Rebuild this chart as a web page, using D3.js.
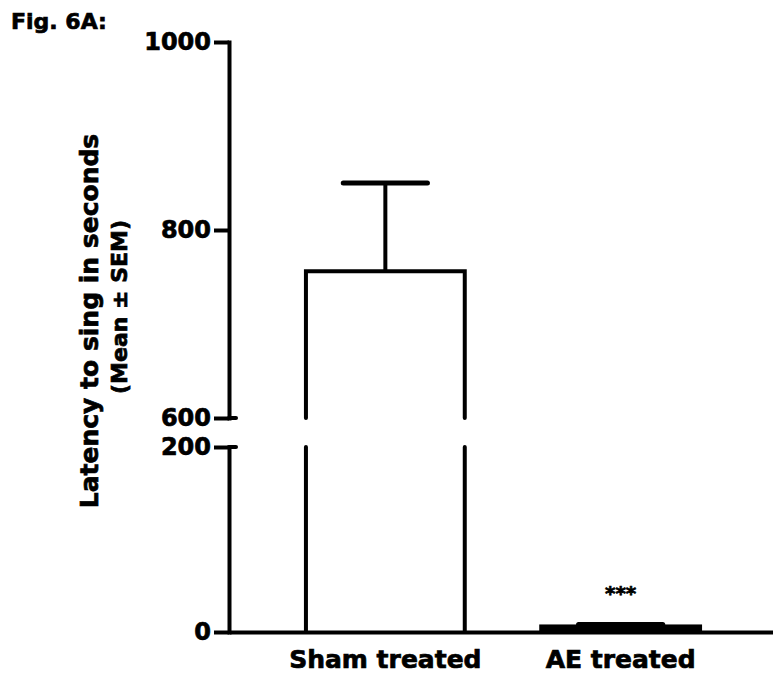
<!DOCTYPE html>
<html>
<head>
<meta charset="utf-8">
<script src="https://cdn.jsdelivr.net/npm/d3@7"></script>
<style>
  body { margin: 0; background: #fff; }
  svg { display: block; font-family: "DejaVu Sans", sans-serif; font-weight: bold; }
  text { stroke: #000; stroke-width: 0.7px; }
</style>
</head>
<body>
<script>
// data
const groups = ["Sham treated", "AE treated"]
const means = [756, 6]
const sems = [94, 2]
const stars = ["", "***"]
const upperTicks = [600, 800, 1000]
const lowerTicks = [0, 200]

const w = 773
const h = 679
const axisX = 229
const lw = 4

const svg = d3.select("body")
  .append("svg")
  .attr("width", w)
  .attr("height", h)

// broken y axis: two linear pieces
const yUpper = d3.scaleLinear().domain([600, 1000]).range([418, 42])
const yLower = d3.scaleLinear().domain([0, 200]).range([632, 447])
const y = v => v >= 600 ? yUpper(v) : yLower(Math.min(v, 200))

const x = d3.scaleBand()
  .domain(groups)
  .range([axisX, w + 4])
  .paddingInner(0.325)
  .paddingOuter(0.327)

svg.append("text")
  .attr("x", 11)
  .attr("y", 29)
  .style("font-size", "22px")
  .text("Fig. 6A:")

// y label
svg.append("text")
  .attr("transform", "translate(98,321) rotate(-90)")
  .attr("text-anchor", "middle")
  .style("font-size", "25px")
  .text("Latency to sing in seconds")

svg.append("text")
  .attr("transform", "translate(127,307) rotate(-90)")
  .attr("text-anchor", "middle")
  .style("font-size", "22px")
  .text("(Mean ± SEM)")

const styleAxis = g => {
  g.select(".domain").attr("stroke-width", lw).attr("stroke-linecap", "square")
  g.selectAll(".tick line").attr("stroke-width", lw)
  g.selectAll(".tick text")
    .attr("fill", "#000")
    .style("font-size", "24px")
    .style("font-family", "'DejaVu Sans', sans-serif")
    .style("font-weight", "bold")
}

const upperAxis = svg.append("g")
  .attr("transform", "translate(" + axisX + ",0)")
  .call(d3.axisLeft(yUpper).tickValues(upperTicks).tickSize(15).tickSizeOuter(0).tickPadding(3).tickFormat(d3.format("d")))
  .call(styleAxis)

const lowerAxis = svg.append("g")
  .attr("transform", "translate(" + axisX + ",0)")
  .call(d3.axisLeft(yLower).tickValues(lowerTicks).tickSize(15).tickSizeOuter(0).tickPadding(3).tickFormat(d3.format("d")))
  .call(styleAxis)

// little caps at the break
svg.selectAll("line.brk")
  .data([yUpper(600), yLower(200)])
  .enter()
  .append("line")
  .attr("class", "brk")
  .attr("x1", axisX)
  .attr("x2", axisX + 7)
  .attr("y1", d => d)
  .attr("y2", d => d)
  .attr("stroke", "#000")
  .attr("stroke-width", lw)
  .attr("stroke-linecap", "round")

// bars
const data = groups.map((g, i) => ({ g: g, m: means[i], s: sems[i], star: stars[i] }))

data.forEach(d => {
  const x0 = x(d.g)
  const x1 = x(d.g) + x.bandwidth()
  if (d.m > 600) {
    svg.append("path")
      .attr("d", "M" + x0 + "," + yUpper(600) + "V" + y(d.m) + "H" + x1 + "V" + yUpper(600))
      .attr("fill", "none")
      .attr("stroke", "#000")
      .attr("stroke-width", lw)
      .attr("stroke-linecap", "round")
    svg.append("path")
      .attr("d", "M" + x0 + "," + yLower(200) + "V" + yLower(0) + "M" + x1 + "," + yLower(200) + "V" + yLower(0))
      .attr("fill", "none")
      .attr("stroke", "#000")
      .attr("stroke-width", lw)
      .attr("stroke-linecap", "round")
  } else {
    svg.append("rect")
      .attr("x", x0)
      .attr("y", y(d.m))
      .attr("width", x.bandwidth())
      .attr("height", y(0) - y(d.m))
      .attr("fill", "#000")
      .attr("stroke", "#000")
      .attr("stroke-width", lw)
  }
})

// error bars
const cx = d => x(d.g) + x.bandwidth() / 2
const capW = x.bandwidth() * 0.53

svg.selectAll("line.err")
  .data(data)
  .enter()
  .append("line")
  .attr("class", "err")
  .attr("x1", cx)
  .attr("x2", cx)
  .attr("y1", d => y(d.m))
  .attr("y2", d => y(d.m + d.s))
  .attr("stroke", "#000")
  .attr("stroke-width", lw)

svg.selectAll("line.cap")
  .data(data)
  .enter()
  .append("line")
  .attr("class", "cap")
  .attr("x1", d => cx(d) - capW / 2)
  .attr("x2", d => cx(d) + capW / 2)
  .attr("y1", d => y(d.m + d.s))
  .attr("y2", d => y(d.m + d.s))
  .attr("stroke", "#000")
  .attr("stroke-width", lw + 1)
  .attr("stroke-linecap", "round")

svg.selectAll("text.star")
  .data(data)
  .enter()
  .append("text")
  .attr("class", "star")
  .attr("x", cx)
  .attr("y", d => y(d.m + d.s) - 25)
  .attr("text-anchor", "middle")
  .style("font-size", "20px")
  .text(d => d.star)

// x axis
svg.append("g")
  .attr("transform", "translate(0," + yLower(0) + ")")
  .call(d3.axisBottom(x).tickSize(0).tickSizeOuter(0).tickPadding(18))
  .call(g => {
    g.select(".domain").attr("stroke-width", lw)
    g.selectAll(".tick text")
      .attr("fill", "#000")
      .style("font-size", "25px")
      .style("font-family", "'DejaVu Sans', sans-serif")
      .style("font-weight", "bold")
  })
</script>
</body>
</html>
